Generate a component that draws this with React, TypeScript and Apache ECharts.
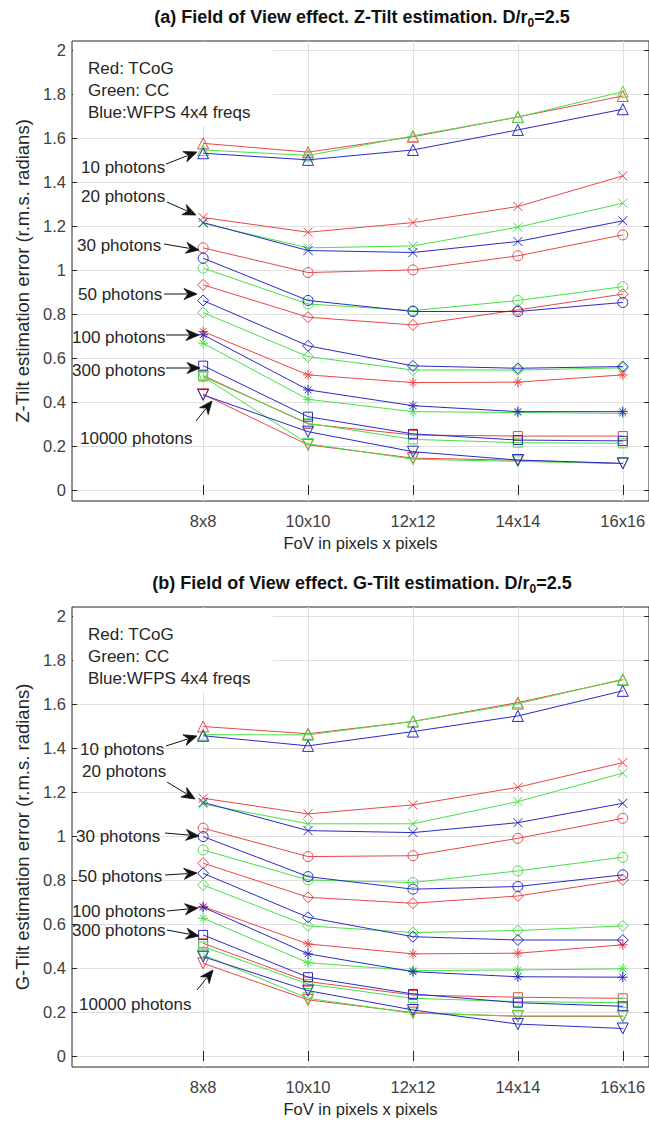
import React, { useEffect, useRef } from 'react';
import * as echarts from 'echarts';

// ---------- data ----------
const fovValues = [8, 10, 12, 14, 16];
const fovLabels = ['8x8', '10x10', '12x12', '14x14', '16x16'];
const yTickValues = [0, 0.2, 0.4, 0.6, 0.8, 1, 1.2, 1.4, 1.6, 1.8, 2];
const photonLabels = ['10 photons', '20 photons', '30 photons', '50 photons', '100 photons', '300 photons', '10000 photons'];
const methodNames = ['TCoG', 'CC', 'WFPS 4x4 freqs'];

// (a) Z-Tilt, rows = photon levels (10,20,30,50,100,300,10000), cols = FoV
const zTiltTCoG = [
  [1.575, 1.535, 1.605, 1.695, 1.79],
  [1.238, 1.171, 1.215, 1.288, 1.427],
  [1.1, 0.988, 1.0, 1.064, 1.159],
  [0.932, 0.785, 0.75, 0.818, 0.89],
  [0.72, 0.523, 0.488, 0.49, 0.523],
  [0.52, 0.3, 0.25, 0.245, 0.245],
  [0.435, 0.205, 0.145, 0.135, 0.12],
];
const zTiltCC = [
  [1.545, 1.52, 1.609, 1.694, 1.81],
  [1.212, 1.1, 1.109, 1.194, 1.303],
  [1.008, 0.845, 0.815, 0.861, 0.924],
  [0.806, 0.606, 0.545, 0.545, 0.555],
  [0.667, 0.412, 0.356, 0.352, 0.348],
  [0.515, 0.303, 0.23, 0.215, 0.212],
  [0.515, 0.21, 0.14, 0.13, 0.12],
];
const zTiltWFPS = [
  [1.53, 1.5, 1.545, 1.636, 1.73],
  [1.215, 1.088, 1.079, 1.129, 1.223],
  [1.053, 0.861, 0.811, 0.811, 0.852],
  [0.861, 0.655, 0.564, 0.553, 0.561],
  [0.705, 0.455, 0.383, 0.356, 0.356],
  [0.565, 0.333, 0.255, 0.227, 0.223],
  [0.432, 0.265, 0.174, 0.136, 0.121],
];

// (b) G-Tilt
const gTiltTCoG = [
  [1.497, 1.464, 1.52, 1.606, 1.709],
  [1.171, 1.1, 1.141, 1.221, 1.333],
  [1.035, 0.906, 0.91, 0.989, 1.08],
  [0.876, 0.721, 0.694, 0.727, 0.8],
  [0.679, 0.509, 0.464, 0.467, 0.505],
  [0.512, 0.338, 0.277, 0.267, 0.262],
  [0.421, 0.255, 0.197, 0.18, 0.18],
];
const gTiltCC = [
  [1.46, 1.459, 1.52, 1.6, 1.712],
  [1.145, 1.055, 1.055, 1.156, 1.285],
  [0.936, 0.8, 0.788, 0.841, 0.903],
  [0.777, 0.591, 0.561, 0.57, 0.591],
  [0.626, 0.424, 0.388, 0.391, 0.396],
  [0.497, 0.327, 0.262, 0.247, 0.242],
  [0.46, 0.262, 0.194, 0.182, 0.182],
];
const gTiltWFPS = [
  [1.455, 1.409, 1.474, 1.545, 1.659],
  [1.152, 1.024, 1.015, 1.06, 1.148],
  [0.997, 0.815, 0.758, 0.77, 0.823],
  [0.83, 0.63, 0.542, 0.527, 0.527],
  [0.676, 0.464, 0.383, 0.36, 0.358],
  [0.55, 0.358, 0.282, 0.242, 0.226],
  [0.451, 0.297, 0.209, 0.145, 0.125],
];

// ---------- styling ----------
const FONT = '"Liberation Sans", Arial, Helvetica, sans-serif';
const methodColors = ['#e8474a', '#48e048', '#2a2ac4'];
const levelSymbols = [
  'triangle',
  'path://M0,0L10,10M10,0L0,10',
  'circle',
  'diamond',
  'path://M5,0L5,10M0,5L10,5M1.6,1.6L8.4,8.4M8.4,1.6L1.6,8.4',
  'rect',
  'path://M0,0L10,0L5,8.66Z',
];
const levelSymbolSizes = [11, 9, 10, 11, 10, 9, 11];

type Ann = { tx: number; ty: number; ax: number; ay: number; bx: number; by: number };

const panels = [
  {
    top: 41,
    titleMain: '(a) Field of View effect. Z-Tilt estimation. D/r',
    yName: 'Z-Tilt estimation error (r.m.s. radians)',
    methods: [zTiltTCoG, zTiltCC, zTiltWFPS],
    titleY: 17,
    ann: [
      { tx: 81, ty: 167, ax: 166, ay: 164, bx: 197, by: 152 },
      { tx: 81, ty: 196, ax: 167, ay: 202, bx: 196, by: 215 },
      { tx: 77, ty: 245, ax: 164, ay: 244, bx: 199, by: 250 },
      { tx: 78, ty: 294, ax: 164, ay: 294, bx: 197, by: 294 },
      { tx: 72, ty: 337, ax: 166, ay: 335, bx: 199, by: 335 },
      { tx: 72, ty: 370, ax: 166, ay: 368, bx: 200, by: 368 },
      { tx: 80, ty: 438, ax: 196, ay: 421, bx: 212, by: 401 },
    ] as Ann[],
  },
  {
    top: 607,
    titleMain: '(b) Field of View effect. G-Tilt estimation. D/r',
    yName: 'G-Tilt estimation error (r.m.s. radians)',
    methods: [gTiltTCoG, gTiltCC, gTiltWFPS],
    titleY: 583,
    ann: [
      { tx: 80, ty: 749, ax: 166, ay: 746, bx: 197, by: 736 },
      { tx: 82, ty: 771, ax: 167, ay: 782, bx: 195, by: 799 },
      { tx: 76, ty: 836, ax: 165, ay: 833, bx: 199, by: 836 },
      { tx: 78, ty: 876, ax: 165, ay: 875, bx: 197, by: 873 },
      { tx: 72, ty: 911, ax: 167, ay: 911, bx: 198, by: 908 },
      { tx: 72, ty: 930, ax: 167, ay: 930, bx: 199, by: 936 },
      { tx: 79, ty: 1004, ax: 197, ay: 990, bx: 213, by: 970 },
    ] as Ann[],
  },
];

const PLOT_H = 460;
const X_MIN = 5.5;
const X_MAX = 16.5;
const Y_MIN = -0.05;
const Y_MAX = 2.04;

function arrowGraphics(a: Ann) {
  const dx = a.bx - a.ax;
  const dy = a.by - a.ay;
  const len = Math.sqrt(dx * dx + dy * dy) || 1;
  const ux = dx / len;
  const uy = dy / len;
  const headL = 13;
  const headW = 5.5;
  const baseX = a.bx - ux * headL;
  const baseY = a.by - uy * headL;
  const nx = -uy;
  const ny = ux;
  return [
    {
      type: 'line',
      shape: { x1: a.ax, y1: a.ay, x2: baseX + ux * 3, y2: baseY + uy * 3 },
      style: { stroke: '#111', lineWidth: 1 },
      z: 10,
      silent: true,
    },
    {
      type: 'polygon',
      shape: {
        points: [
          [a.bx, a.by],
          [baseX + nx * headW, baseY + ny * headW],
          [baseX + ux * 4, baseY + uy * 4],
          [baseX - nx * headW, baseY - ny * headW],
        ],
      },
      style: { fill: '#111', stroke: '#111', lineWidth: 0.8 },
      z: 10,
      silent: true,
    },
  ];
}

function buildOption() {
  const grids: any[] = [];
  const xAxes: any[] = [];
  const yAxes: any[] = [];
  const series: any[] = [];
  const graphics: any[] = [];

  panels.forEach((p, pi) => {
    grids.push({
      left: 72,
      right: -3,
      top: p.top,
      height: PLOT_H,
      show: true,
      backgroundColor: '#ffffff',
      borderColor: '#262626',
      borderWidth: 1,
    });
    xAxes.push({
      gridIndex: pi,
      type: 'value',
      min: X_MIN,
      max: X_MAX,
      position: 'bottom',
      axisLine: { show: false },
      axisTick: { show: true, inside: true, length: 5, customValues: fovValues, lineStyle: { color: '#262626' } },
      axisLabel: {
        customValues: fovValues,
        formatter: (v: number) => fovLabels[fovValues.indexOf(v)] ?? '',
        fontSize: 16.5,
        fontFamily: FONT,
        color: '#404040',
        margin: 11,
      },
      splitLine: { show: true, lineStyle: { color: '#e0e0e0', width: 1 } },
      name: 'FoV in pixels x pixels',
      nameLocation: 'middle',
      nameGap: 33,
      nameTextStyle: { fontSize: 16.5, fontFamily: FONT, color: '#262626' },
    });
    xAxes.push({
      gridIndex: pi,
      type: 'value',
      min: X_MIN,
      max: X_MAX,
      position: 'top',
      axisLine: { show: false },
      axisTick: { show: true, inside: true, length: 5, customValues: fovValues, lineStyle: { color: '#262626' } },
      axisLabel: { show: false },
      splitLine: { show: false },
    });
    yAxes.push({
      gridIndex: pi,
      type: 'value',
      min: Y_MIN,
      max: Y_MAX,
      position: 'left',
      axisLine: { show: false },
      axisTick: { show: true, inside: true, length: 5, customValues: yTickValues, lineStyle: { color: '#262626' } },
      axisLabel: {
        customValues: yTickValues,
        formatter: (v: number) => String(v),
        fontSize: 16.5,
        fontFamily: FONT,
        color: '#404040',
        margin: 6,
      },
      splitLine: { show: true, lineStyle: { color: '#e0e0e0', width: 1 } },
      name: p.yName,
      nameLocation: 'middle',
      nameRotate: 90,
      nameGap: 39,
      nameTextStyle: { fontSize: 18.5, fontFamily: FONT, color: '#262626' },
    });
    yAxes.push({
      gridIndex: pi,
      type: 'value',
      min: Y_MIN,
      max: Y_MAX,
      position: 'right',
      axisLine: { show: false },
      axisTick: { show: true, inside: true, length: 5, customValues: yTickValues, lineStyle: { color: '#262626' } },
      axisLabel: { show: false },
      splitLine: { show: false },
    });

    p.methods.forEach((rows, mi) => {
      rows.forEach((vals, li) => {
        series.push({
          name: `${methodNames[mi]} ${photonLabels[li]} (${pi === 0 ? 'Z' : 'G'})`,
          type: 'line',
          xAxisIndex: pi * 2,
          yAxisIndex: pi * 2,
          data: fovValues.map((x, i) => [x, vals[i]]),
          symbol: levelSymbols[li],
          symbolSize: levelSymbolSizes[li],
          showSymbol: true,
          silent: true,
          lineStyle: { color: methodColors[mi], width: 1 },
          itemStyle: { color: 'rgba(0,0,0,0)', borderColor: methodColors[mi], borderWidth: 1 },
          z: 3 + mi,
        });
      });
    });

    const off = p.top - 41;
    // title
    graphics.push({
      type: 'text',
      x: 362,
      y: p.titleY,
      z: 20,
      style: {
        text: `{b|${p.titleMain}}{s|0}{b|=2.5}`,
        align: 'center',
        verticalAlign: 'middle',
        fill: '#111',
        rich: {
          b: { fontSize: 18, fontWeight: 'bold', fontFamily: FONT, fill: '#111', lineHeight: 22 },
          s: { fontSize: 12, fontWeight: 'bold', fontFamily: FONT, fill: '#111', lineHeight: 15, padding: [11, 0, 0, 0] },
        },
      },
    });
    // legend box
    graphics.push({
      type: 'rect',
      shape: { x: 73, y: 42 + off, width: 200, height: 84 },
      style: { fill: '#ffffff' },
      z: 1,
      silent: true,
    });
    ['Red: TCoG', 'Green: CC', 'Blue:WFPS 4x4 freqs'].forEach((t, i) => {
      graphics.push({
        type: 'text',
        x: 88,
        y: 68 + off + i * 22,
        z: 20,
        style: { text: t, fontSize: 17, fontFamily: FONT, fill: '#262626', verticalAlign: 'middle' },
      });
    });
    // annotations
    p.ann.forEach((a, i) => {
      graphics.push({
        type: 'text',
        x: a.tx,
        y: a.ty,
        z: 20,
        style: { text: photonLabels[i], fontSize: 17, fontFamily: FONT, fill: '#262626', verticalAlign: 'middle' },
      });
      arrowGraphics(a).forEach((g) => graphics.push(g));
    });
  });

  return {
    animation: false,
    backgroundColor: '#ffffff',
    grid: grids,
    xAxis: xAxes,
    yAxis: yAxes,
    series,
    graphic: { elements: graphics },
  };
}

export default function App() {
  const ref = useRef<HTMLDivElement>(null);
  useEffect(() => {
    if (!ref.current) return;
    const chart = echarts.init(ref.current, undefined, { renderer: 'svg' });
    chart.setOption(buildOption() as any);
    return () => chart.dispose();
  }, []);
  return (
    <div
      ref={ref}
      style={{ position: 'absolute', left: 0, top: 0, width: 649, height: 1126, background: '#fff' }}
    />
  );
}
